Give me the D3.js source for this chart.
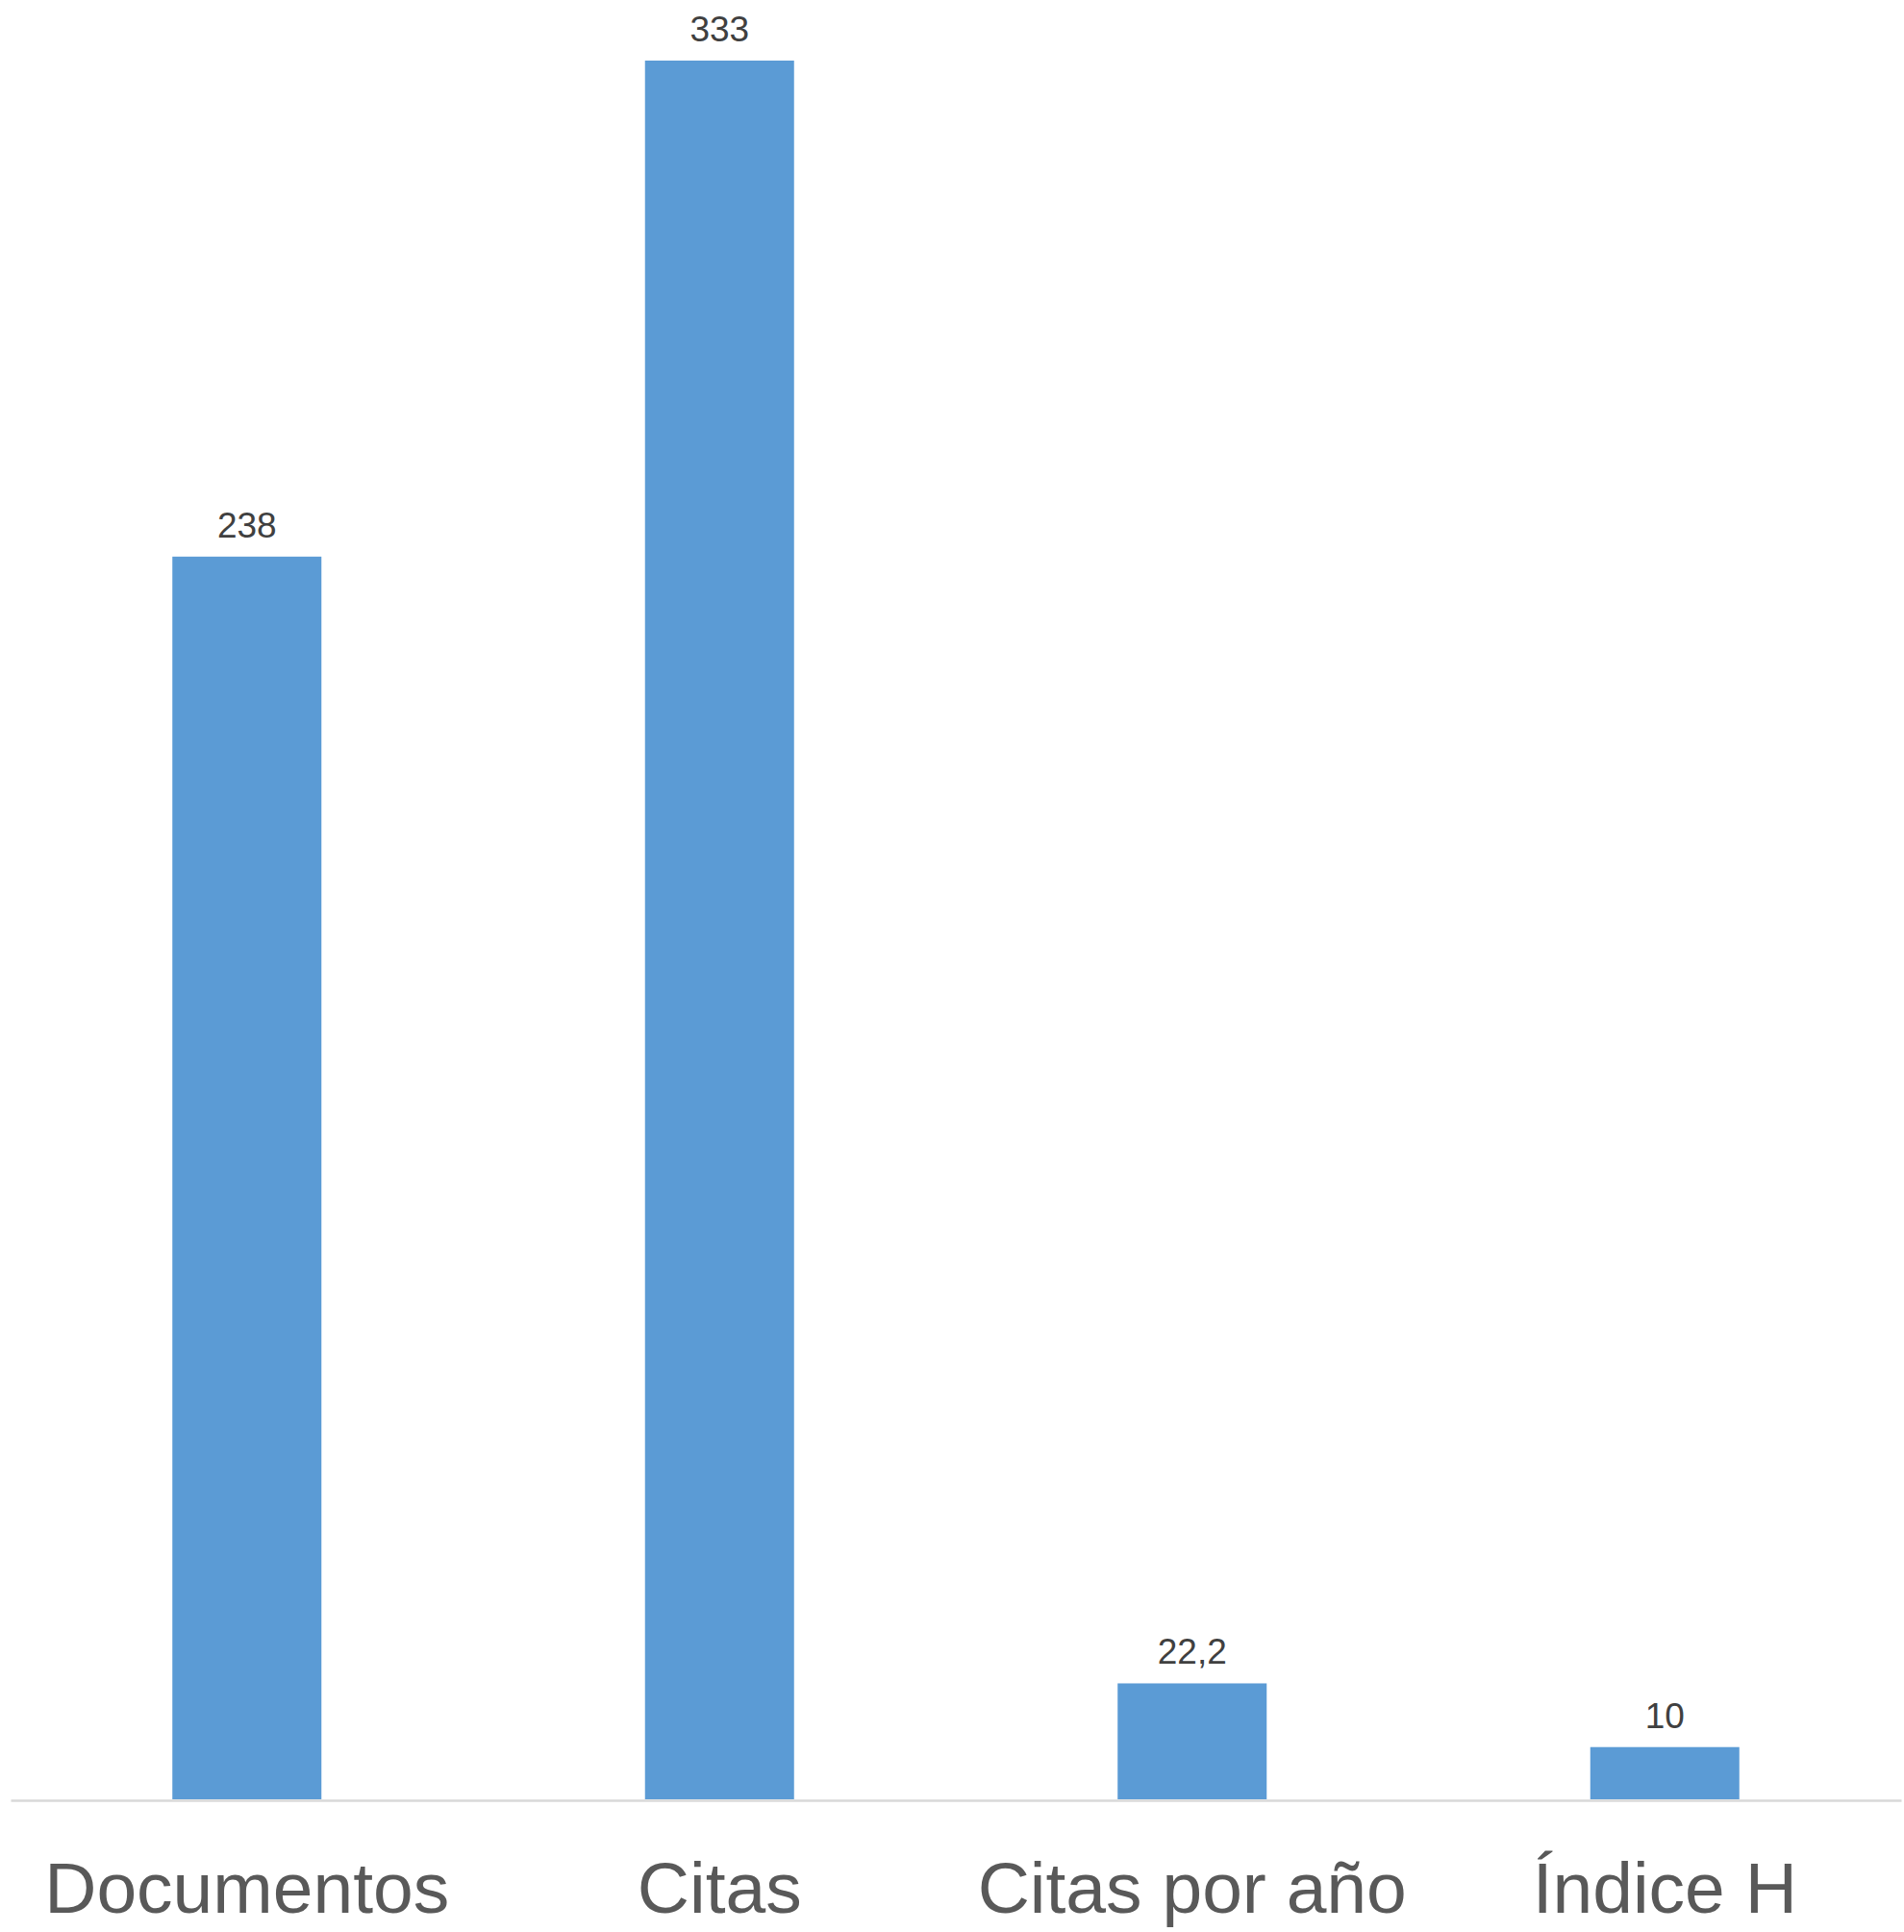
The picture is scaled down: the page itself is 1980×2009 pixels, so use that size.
<!DOCTYPE html>
<html>
<head>
<meta charset="utf-8">
<script src="https://cdn.jsdelivr.net/npm/d3@7"></script>
<style>
  html, body { margin: 0; padding: 0; background: #ffffff; }
  svg { display: block; }
</style>
</head>
<body>
<script>
const categories = ["Documentos", "Citas", "Citas por año", "Índice H"];
const values = [238, 333, 22.2, 10];
const valueLabels = ["238", "333", "22,2", "10"];

const W = 1980, H = 2009;
const svg = d3.select("body").append("svg").attr("width", W).attr("height", H);

const x = d3.scaleBand()
  .domain(categories)
  .range([11, 1977])
  .paddingInner(0.6846)
  .paddingOuter(0.3423);

const y = d3.scaleLinear()
  .domain([0, 333])
  .range([1871, 63]);

svg.append("g").selectAll("rect")
  .data(categories)
  .join("rect")
  .attr("x", d => x(d))
  .attr("width", x.bandwidth())
  .attr("y", (d, i) => y(values[i]))
  .attr("height", (d, i) => y(0) - y(values[i]))
  .attr("fill", "#5b9bd5");

const axis = svg.append("g")
  .attr("transform", `translate(0,${y(0) + 1})`)
  .call(d3.axisBottom(x).tickSize(0).tickSizeOuter(0).tickPadding(0));
axis.select(".domain").attr("stroke", "#d9d9d9").attr("stroke-width", 2.5);
axis.selectAll(".tick text")
  .attr("y", 117)
  .attr("dy", null)
  .attr("font-family", "Liberation Sans, Arial, sans-serif")
  .attr("font-size", 75)
  .attr("fill", "#595959");

svg.append("g").selectAll("text")
  .data(categories)
  .join("text")
  .attr("x", d => x(d) + x.bandwidth() / 2)
  .attr("y", (d, i) => y(values[i]) - 20)
  .attr("text-anchor", "middle")
  .attr("font-family", "Liberation Sans, Arial, sans-serif")
  .attr("font-size", 37)
  .attr("fill", "#404040")
  .text((d, i) => valueLabels[i]);
</script>
</body>
</html>
